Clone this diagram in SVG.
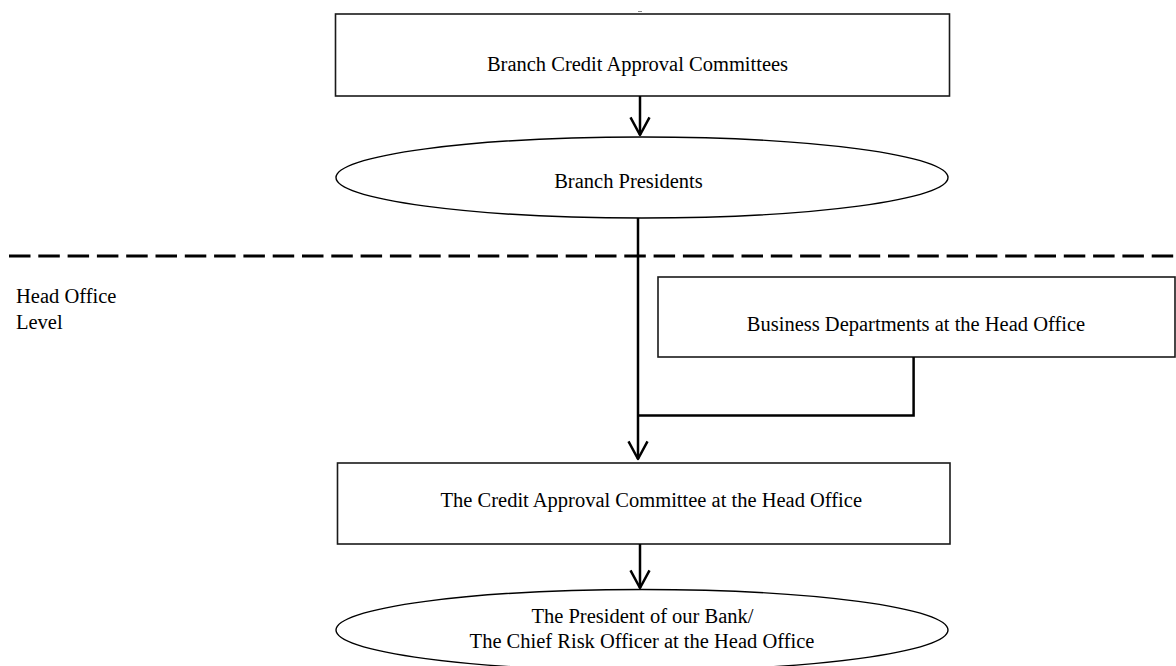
<svg xmlns="http://www.w3.org/2000/svg" width="1176" height="666" viewBox="0 0 1176 666">
  <style>
    .box { fill: #ffffff; stroke: #1a1a1a; stroke-width: 1.6; }
    .oval { fill: #ffffff; stroke: #000000; stroke-width: 1.4; }
    .lbl { font-family: "Liberation Serif", "Times New Roman", serif; font-size: 20.5px; fill: #000000; }
    .mid { text-anchor: middle; }
    .conn { fill: none; stroke: #000000; stroke-width: 2.5; }
    .divider { fill: none; stroke: #000000; stroke-width: 3; stroke-dasharray: 21.5 7.8; }
  </style>
  <defs>
    <marker id="openArrow" markerUnits="userSpaceOnUse" viewBox="-20 -12 24 24" refX="0" refY="0" markerWidth="24" markerHeight="24" orient="auto" overflow="visible">
      <path d="M -17.7 -9.5 L 0 0 L -17.7 9.5" fill="none" stroke="#000000" stroke-width="2.5" stroke-linejoin="round"/>
    </marker>
  </defs>
  <rect width="1176" height="666" fill="#ffffff"/>

  <!-- level divider -->
  <g id="divider">
    <line class="divider" x1="9" y1="256" x2="1176" y2="256"/>
    <line x1="638" y1="11.5" x2="642" y2="11.5" stroke="#888888" stroke-width="1"/>
  </g>

  <g id="head-office-level">
    <text class="lbl" x="16" y="302.7">Head Office</text>
    <text class="lbl" x="16" y="329">Level</text>
  </g>

  <g id="node-branch-committees">
    <rect class="box" x="335.5" y="14" width="614" height="82"/>
    <text class="lbl mid" x="637.5" y="70.7">Branch Credit Approval Committees</text>
  </g>

  <g id="node-branch-presidents">
    <ellipse class="oval" cx="642" cy="177.5" rx="306" ry="40.5"/>
    <text class="lbl mid" x="628.5" y="188">Branch Presidents</text>
  </g>

  <g id="node-business-departments">
    <rect class="box" x="658" y="277" width="517" height="80"/>
    <text class="lbl mid" x="916" y="330.7">Business Departments at the Head Office</text>
  </g>

  <g id="node-credit-committee">
    <rect class="box" x="337.5" y="463" width="612.5" height="81"/>
    <text class="lbl mid" x="651.3" y="506.7">The Credit Approval Committee at the Head Office</text>
  </g>

  <g id="node-president">
    <ellipse class="oval" cx="642" cy="630" rx="306" ry="40.5"/>
    <text class="lbl mid" x="642.5" y="622.5">The President of our Bank/</text>
    <text class="lbl mid" x="642" y="648.3">The Chief Risk Officer at the Head Office</text>
  </g>

  <g id="connectors">
    <path class="conn" d="M640 96 V135" marker-end="url(#openArrow)"/>
    <path class="conn" d="M638 218 V459" marker-end="url(#openArrow)"/>
    <path class="conn" d="M913.6 357 V415.5 H638"/>
    <path class="conn" d="M640 544 V588" marker-end="url(#openArrow)"/>
  </g>
</svg>
